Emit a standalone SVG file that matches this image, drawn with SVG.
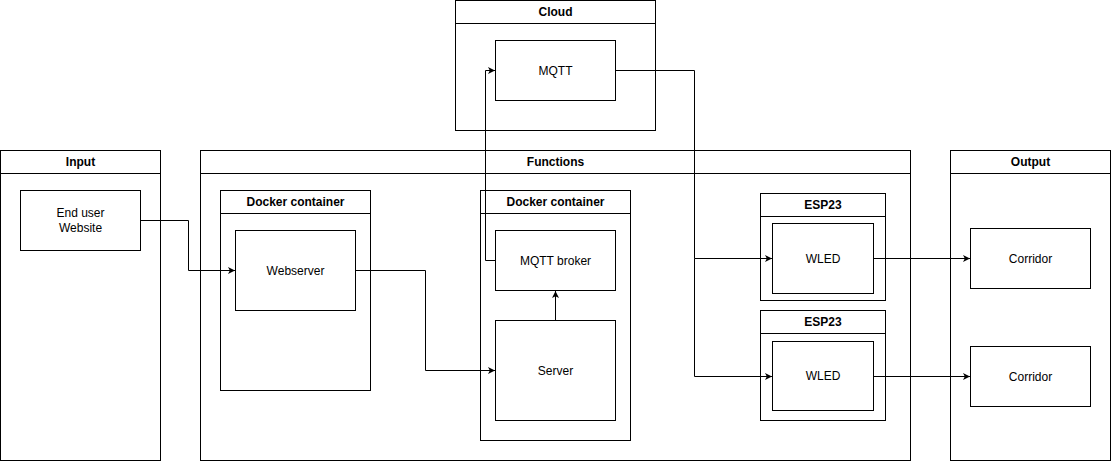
<svg xmlns="http://www.w3.org/2000/svg" width="1111" height="461" viewBox="0 0 1111 461">
<style>
.box{fill:#fff;stroke:#000;stroke-width:1}
.hdr{fill:none;stroke:#000;stroke-width:1}
.t{font-family:"Liberation Sans",Arial,sans-serif;font-size:12px;fill:#000;text-anchor:middle;dominant-baseline:central}
.b{font-weight:bold}
.c{fill:none;stroke:#000;stroke-width:1}
</style>
<defs>
<marker id="arr" markerWidth="8" markerHeight="8" refX="7" refY="4" orient="auto" markerUnits="userSpaceOnUse">
<path d="M0,0.5 L7,4 L0,7.5 L1.8,4 Z" fill="#000"/>
</marker>
</defs>
<rect width="1111" height="461" fill="#fff"/>

<g id="cloud">
<rect class="box" x="455.5" y="0.5" width="200" height="130"/>
<line class="hdr" x1="455.5" y1="23.5" x2="655.5" y2="23.5"/>
<text class="t b" x="555.5" y="12">Cloud</text>
</g>
<g id="mqtt">
<rect class="box" x="495.5" y="40.5" width="120" height="60"/>
<text class="t" x="555.5" y="70.5">MQTT</text>
</g>

<g id="input">
<rect class="box" x="0.5" y="150.5" width="160" height="310"/>
<line class="hdr" x1="0.5" y1="173.5" x2="160.5" y2="173.5"/>
<text class="t b" x="80.5" y="162">Input</text>
</g>
<g id="enduser">
<rect class="box" x="20.5" y="190.5" width="120" height="60"/>
<text class="t" x="80.5" y="213">End user</text>
<text class="t" x="80.5" y="228">Website</text>
</g>

<g id="functions">
<rect class="box" x="200.5" y="150.5" width="710" height="310"/>
<line class="hdr" x1="200.5" y1="173.5" x2="910.5" y2="173.5"/>
<text class="t b" x="555.5" y="162">Functions</text>
</g>

<g id="docker1">
<rect class="box" x="220.5" y="190.5" width="150" height="200"/>
<line class="hdr" x1="220.5" y1="213.5" x2="370.5" y2="213.5"/>
<text class="t b" x="295.5" y="202">Docker container</text>
</g>
<g id="webserver">
<rect class="box" x="235.5" y="230.5" width="120" height="80"/>
<text class="t" x="295.5" y="270.5">Webserver</text>
</g>

<g id="docker2">
<rect class="box" x="480.5" y="190.5" width="150" height="250"/>
<line class="hdr" x1="480.5" y1="213.5" x2="630.5" y2="213.5"/>
<text class="t b" x="555.5" y="202">Docker container</text>
</g>
<g id="broker">
<rect class="box" x="495.5" y="230.5" width="120" height="60"/>
<text class="t" x="555.5" y="260.5">MQTT broker</text>
</g>
<g id="server">
<rect class="box" x="495.5" y="320.5" width="120" height="100"/>
<text class="t" x="555.5" y="370.5">Server</text>
</g>

<g id="esp1">
<rect class="box" x="760.5" y="193.5" width="125" height="107"/>
<line class="hdr" x1="760.5" y1="216.5" x2="885.5" y2="216.5"/>
<text class="t b" x="823" y="205">ESP23</text>
</g>
<g id="wled1">
<rect class="box" x="772.5" y="223.5" width="101" height="70"/>
<text class="t" x="823" y="258.5">WLED</text>
</g>

<g id="esp2">
<rect class="box" x="760.5" y="310.5" width="125" height="110"/>
<line class="hdr" x1="760.5" y1="333.5" x2="885.5" y2="333.5"/>
<text class="t b" x="823" y="322">ESP23</text>
</g>
<g id="wled2">
<rect class="box" x="772.5" y="341.5" width="101" height="69"/>
<text class="t" x="823" y="376">WLED</text>
</g>

<g id="output">
<rect class="box" x="950.5" y="150.5" width="160" height="310"/>
<line class="hdr" x1="950.5" y1="173.5" x2="1110.5" y2="173.5"/>
<text class="t b" x="1030.5" y="162">Output</text>
</g>
<g id="corridor1">
<rect class="box" x="970.5" y="228.5" width="120" height="60"/>
<text class="t" x="1030.5" y="258.5">Corridor</text>
</g>
<g id="corridor2">
<rect class="box" x="970.5" y="346.5" width="120" height="60"/>
<text class="t" x="1030.5" y="376.5">Corridor</text>
</g>

<g id="connectors">
<path class="c" d="M140.5,220.5 H188.5 V270.5 H235" marker-end="url(#arr)"/>
<path class="c" d="M355.5,270.5 H425.5 V370.5 H495" marker-end="url(#arr)"/>
<path class="c" d="M555.5,320.5 V291" marker-end="url(#arr)"/>
<path class="c" d="M495.5,260.5 H485.5 V70.5 H495" marker-end="url(#arr)"/>
<path class="c" d="M615.5,70.5 H694.5 V258.5 H772" marker-end="url(#arr)"/>
<path class="c" d="M694.5,258.5 V376.5 H772" marker-end="url(#arr)"/>
<path class="c" d="M873.5,258.5 H970" marker-end="url(#arr)"/>
<path class="c" d="M873.5,376.5 H970" marker-end="url(#arr)"/>
</g>
</svg>
